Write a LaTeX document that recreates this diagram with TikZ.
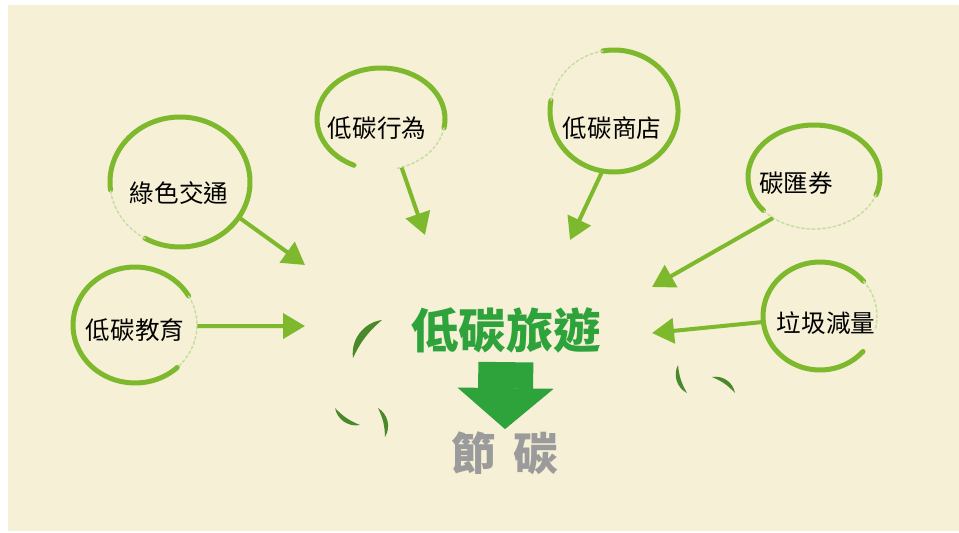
\documentclass[tikz,border=0pt]{standalone}
\usepackage{fontspec}
\newfontfamily\cjk{Noto Sans CJK TC}
\usetikzlibrary{arrows.meta, shapes.geometric}
\definecolor{cbg}{HTML}{F6F0D6}
\definecolor{cring}{HTML}{7DB82D}
\definecolor{ctitle}{HTML}{2EA23B}
\definecolor{cgrey}{HTML}{9B9B9B}
\definecolor{cleaf}{HTML}{4A882C}
\tikzset{
  every picture/.style={font=\cjk, line cap=round},
  rim/.style={ellipse, inner sep=0pt},
  ring/.style={draw=cring, line width=0.1cm},
  ringfade/.style={draw=cring!45, line width=0.03cm, dash pattern=on 1.5pt off 1.5pt},
  tag/.style={font=\cjk\fontsize{14pt}{14pt}\selectfont, inner sep=2pt},
  arrow/.style={-{Triangle[length=0.44cm, width=0.5cm]}, draw=cring, line width=0.08cm, line cap=butt},
  bigarrow/.style={-{Triangle[length=0.82cm, width=1.92cm, line width=1pt]}, draw=ctitle, line width=1.1cm, line cap=butt},
  leaf/.style={fill=cleaf},
}

\begin{document}
\begin{tikzpicture}[x=0.02cm, y=0.02cm]
  \useasboundingbox (0,0) rectangle (959,-532);
  \fill[cbg] (8,-5) rectangle (959,-531);
  % centre
  \node[text=ctitle, inner sep=0pt, font=\cjk\fontsize{27pt}{27pt}\selectfont\bfseries] (title) at (506,-330) {低碳旅遊};
  \node[text=cgrey, inner sep=0pt, font=\cjk\fontsize{25.5pt}{25.5pt}\selectfont\bfseries] (result) at (505,-453) {節\hspace{0.4em}碳};
  \draw[bigarrow, shorten <=0.18cm, shorten >=0.04cm] (title.south) -- (result.north);
  % bubbles
  \node[rim, minimum width=2.8cm, minimum height=2.6cm] (traffic) at (180,-182) {};
  \node[rim, minimum width=2.56cm, minimum height=2.04cm] (behavior) at (381,-119) {};
  \node[rim, minimum width=2.56cm, minimum height=2.44cm] (shop) at (614,-111) {};
  \node[rim, minimum width=2.64cm, minimum height=2.08cm] (credit) at (814,-177) {};
  \node[rim, minimum width=2.28cm, minimum height=2.16cm] (waste) at (820,-316) {};
  \node[rim, minimum width=2.48cm, minimum height=2.32cm] (edu) at (135,-325) {};
  \draw[ring] (traffic.center) ++(187:70 and 65) arc[start angle=187, end angle=-120, x radius=70, y radius=65];
  \draw[ringfade] (traffic.center) ++(-120:70 and 65) arc[start angle=-120, end angle=-173, x radius=70, y radius=65];
  \draw[ring] (behavior.center) ++(245:64 and 51) arc[start angle=245, end angle=-10, x radius=64, y radius=51];
  \draw[ringfade] (behavior.center) ++(-10:64 and 51) arc[start angle=-10, end angle=-75, x radius=64, y radius=51];
  \draw[ring] (shop.center) ++(100:64 and 61) arc[start angle=100, end angle=-190, x radius=64, y radius=61];
  \draw[ringfade] (shop.center) ++(-190:64 and 61) arc[start angle=-190, end angle=-260, x radius=64, y radius=61];
  \draw[ring] (credit.center) ++(220:66 and 52) arc[start angle=220, end angle=-20, x radius=66, y radius=52];
  \draw[ringfade] (credit.center) ++(-20:66 and 52) arc[start angle=-20, end angle=-140, x radius=66, y radius=52];
  \draw[ring] (waste.center) ++(-41:57 and 54) arc[start angle=-41, end angle=-320, x radius=57, y radius=54];
  \draw[ringfade] (waste.center) ++(-320:57 and 54) arc[start angle=-320, end angle=-375, x radius=57, y radius=54];
  \draw[ring] (edu.center) ++(-47:62 and 58) arc[start angle=-47, end angle=-330, x radius=62, y radius=58];
  \draw[ringfade] (edu.center) ++(-330:62 and 58) arc[start angle=-330, end angle=-407, x radius=62, y radius=58];
  \node[tag] (traffic-text) at (179,-193) {綠色交通};
  \node[tag] (behavior-text) at (377,-128) {低碳行為};
  \node[tag] (shop-text) at (612,-128) {低碳商店};
  \node[tag] (credit-text) at (796,-183) {碳匯券};
  \node[tag] (waste-text) at (826,-323) {垃圾減量};
  \node[tag] (edu-text) at (135,-330) {低碳教育};
  % arrows into the centre
  \coordinate (traffic-tip) at (305,-265);
  \coordinate (behavior-tip) at (425,-235);
  \coordinate (shop-tip) at (570,-240);
  \coordinate (credit-tip) at (652,-287);
  \coordinate (waste-tip) at (652,-333);
  \coordinate (edu-tip) at (305,-326);
  \draw[arrow] (traffic.-31) -- (traffic-tip);
  \draw[arrow] (behavior.-67) -- (behavior-tip);
  \draw[arrow] (shop.-101) -- (shop-tip);
  \draw[arrow] (credit.-135) -- (credit-tip);
  \draw[arrow] (waste.186) -- (waste-tip);
  \draw[arrow] (edu.-1) -- (edu-tip);
  % leaves
  \fill[leaf] (353,-358) to[bend left=45] (382,-320) to[bend right=12] (353,-358);
  \fill[leaf] (335,-408) to[bend right=45] (360,-425) to[bend left=12] (335,-408);
  \fill[leaf] (378,-408) to[bend left=45] (385,-437) to[bend right=12] (378,-408);
  \fill[leaf] (678,-365) to[bend right=45] (687,-393) to[bend left=12] (678,-365);
  \fill[leaf] (712,-377) to[bend left=45] (735,-393) to[bend right=12] (712,-377);
\end{tikzpicture}
\end{document}
